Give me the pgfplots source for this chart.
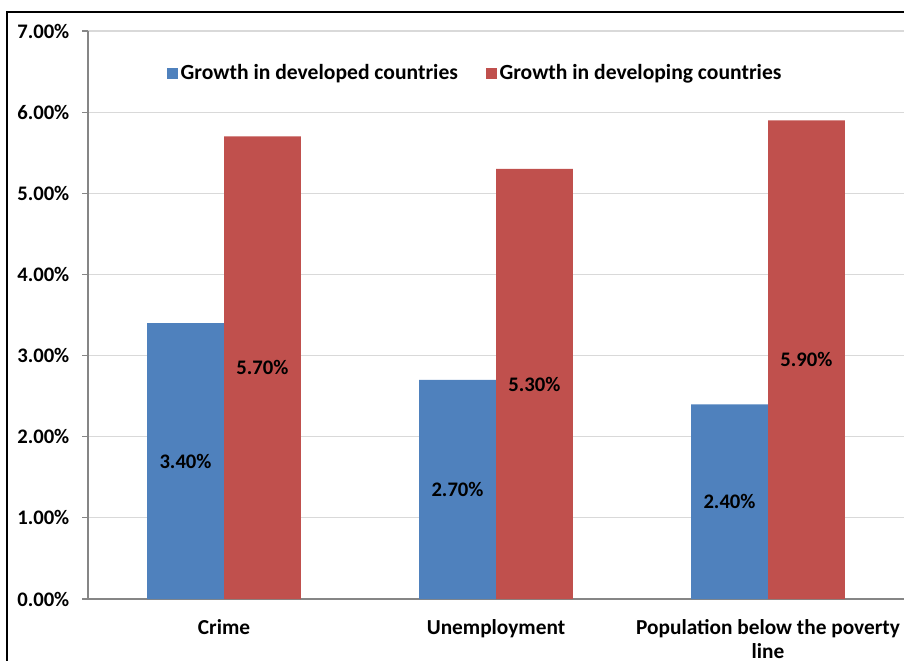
\documentclass[border=0pt]{standalone}
\usepackage{fontspec}
\setmainfont{Carlito}
\usepackage{pgfplots}
\pgfplotsset{compat=1.18}
\definecolor{cblue}{HTML}{4F81BD}
\definecolor{cred}{HTML}{C0504D}
\definecolor{cgrid}{HTML}{D9D9D9}
\definecolor{caxis}{HTML}{868686}
\begin{document}
\bfseries
\begin{tikzpicture}
\useasboundingbox (0,0) rectangle (678pt,-495.75pt);
\draw[black, line width=0.8pt] (5.25pt,-495.75pt) -- (5.25pt,-9pt) -- (678pt,-9pt);
\begin{axis}[
  at={(66pt,-449.25pt)}, anchor=south west,
  scale only axis, width=612pt, height=426pt,
  /pgf/number format/assume math mode=true,
  xmin=-0.5, xmax=2.5, ymin=0, ymax=7,
  axis x line*=bottom, axis y line*=left,
  axis line style={caxis, line width=0.8pt},
  ytick={0,1,...,7},
  ymajorgrids, grid style={cgrid, line width=0.8pt},
  yticklabel={\pgfmathprintnumber[fixed,fixed zerofill,precision=2]{\tick}\%},
  ytick align=outside, ytick style={caxis, line width=0.8pt},
  major tick length=4.5pt,
  yticklabel style={font=\fontsize{15.5}{17}\selectfont\bfseries, xshift=-6pt},
  xtick={0,1,2},
  xticklabels={Crime, Unemployment, {Population below the poverty\\line}},
  xticklabel style={font=\fontsize{16}{18}\selectfont\bfseries, align=center, anchor=north, yshift=-12pt},
  x tick style={draw=none},
  extra x ticks={-0.5,0.5,1.5,2.5}, extra x tick labels={},
  extra x tick style={tick style={draw=caxis, line width=0.8pt}, major tick length=6pt, tick align=outside, grid=none},
  bar width=0.283,
  visualization depends on={y \as \rawy},
  nodes near coords={\pgfmathprintnumber[fixed,fixed zerofill,precision=2]{\pgfplotspointmeta}\%},
  legend style={draw=none, fill=none, at={(0.475,0.926)}, anchor=center, legend columns=2,
    font=\fontsize{16.2}{18}\selectfont\bfseries, /tikz/every even column/.append style={column sep=19pt}},
  legend image code/.code={\fill[#1] (0pt,-4.1pt) rectangle (8.2pt,4.1pt);},
  clip=false,
]
\addplot[ybar, fill=cblue, draw=none, bar shift=-0.1415,
  every node near coord/.append style={font=\fontsize{15.5}{17}\selectfont\bfseries, black, anchor=center, shift={(axis direction cs:-0.1415,-\rawy/2)}}]
  coordinates {(0,3.4) (1,2.7) (2,2.4)};
\addlegendentry{Growth in developed countries}
\addplot[ybar, fill=cred, draw=none, bar shift=0.1415,
  every node near coord/.append style={font=\fontsize{15.5}{17}\selectfont\bfseries, black, anchor=center, shift={(axis direction cs:0.1415,-\rawy/2)}}]
  coordinates {(0,5.7) (1,5.3) (2,5.9)};
\addlegendentry{Growth in developing countries}
\end{axis}
\end{tikzpicture}
\end{document}
